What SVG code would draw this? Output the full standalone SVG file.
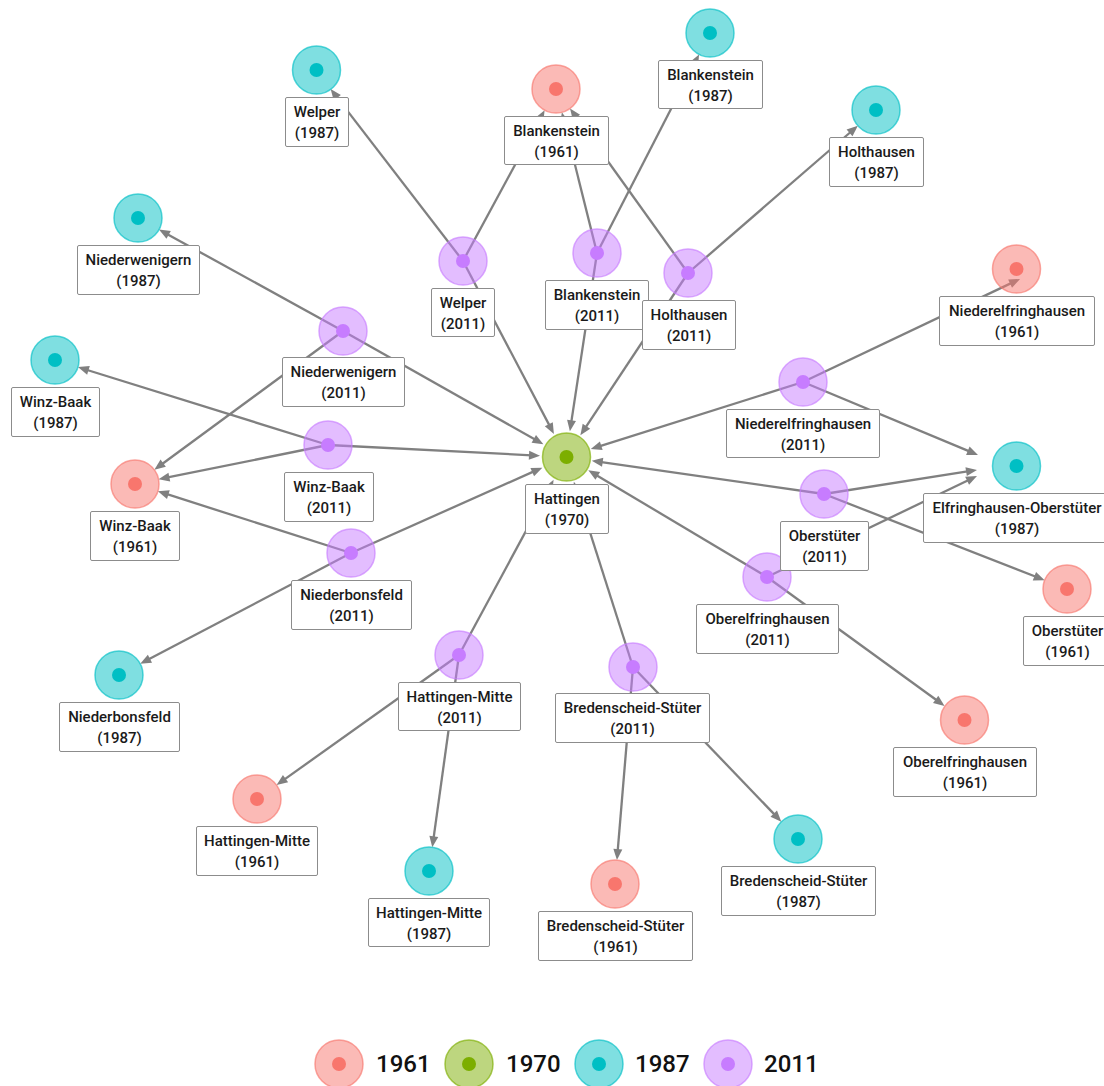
<svg xmlns="http://www.w3.org/2000/svg" width="1104" height="1086" viewBox="0 0 1104 1086">
<defs>
<style>
.e{stroke:#808080;stroke-width:2.3;fill:none;marker-end:url(#arr)}
.o{stroke-width:1.5;fill-opacity:.5;stroke-opacity:.65}
.c61{fill:#F8766D;stroke:#F8766D}
.c70{fill:#7CAE00;stroke:#7CAE00}
.c87{fill:#00BFC4;stroke:#00BFC4}
.c11{fill:#C77CFF;stroke:#C77CFF}
.d61{fill:#F8766D}
.d70{fill:#7CAE00}
.d87{fill:#00BFC4}
.d11{fill:#C77CFF}
.lb{fill:#ffffff;stroke:#8c8c8c;stroke-width:1}
.t{font-family:Roboto,"Liberation Sans",sans-serif;font-size:15px;font-weight:500;fill:#1a1a1a;text-anchor:middle}
.lg{font-family:Roboto,"Liberation Sans",sans-serif;font-size:24px;font-weight:500;fill:#111111}
</style>
<marker id="arr" markerUnits="userSpaceOnUse" markerWidth="20" markerHeight="20" refX="0" refY="0" orient="auto" overflow="visible">
<path d="M-3,-4.5 L8,0 L-3,4.5 Z" fill="#808080"/>
</marker>
</defs>
<rect x="0" y="0" width="1104" height="1086" fill="#ffffff"/>
<g id="edges">
<line class="e" x1="463" y1="261" x2="335.5" y2="95.4"/>
<line class="e" x1="463" y1="261" x2="540.8" y2="117.2"/>
<line class="e" x1="463" y1="261" x2="550.2" y2="426.9"/>
<line class="e" x1="597" y1="253" x2="563.8" y2="120"/>
<line class="e" x1="597" y1="253" x2="695.4" y2="61.5"/>
<line class="e" x1="597" y1="253" x2="571.1" y2="423.4"/>
<line class="e" x1="688" y1="273" x2="574.7" y2="115"/>
<line class="e" x1="688" y1="273" x2="851.8" y2="131"/>
<line class="e" x1="688" y1="273" x2="584.8" y2="428.7"/>
<line class="e" x1="343" y1="331" x2="166" y2="233.4"/>
<line class="e" x1="343" y1="331" x2="160.8" y2="465"/>
<line class="e" x1="343" y1="331" x2="536.4" y2="440.3"/>
<line class="e" x1="328" y1="445" x2="85.6" y2="369.5"/>
<line class="e" x1="328" y1="445" x2="166.4" y2="477.7"/>
<line class="e" x1="328" y1="445" x2="532" y2="455.3"/>
<line class="e" x1="351" y1="553" x2="165.5" y2="493.7"/>
<line class="e" x1="351" y1="553" x2="147.3" y2="660.1"/>
<line class="e" x1="351" y1="553" x2="535" y2="470.9"/>
<line class="e" x1="459" y1="655" x2="283.1" y2="780.4"/>
<line class="e" x1="459" y1="655" x2="433.4" y2="839.3"/>
<line class="e" x1="459" y1="655" x2="549.8" y2="486.9"/>
<line class="e" x1="633" y1="667" x2="617.6" y2="852.1"/>
<line class="e" x1="633" y1="667" x2="775.8" y2="815.9"/>
<line class="e" x1="633" y1="667" x2="576.3" y2="489.4"/>
<line class="e" x1="767" y1="577" x2="938.1" y2="701.2"/>
<line class="e" x1="767" y1="577" x2="969.8" y2="479.5"/>
<line class="e" x1="767" y1="577" x2="595.2" y2="474.4"/>
<line class="e" x1="824" y1="494" x2="1037.2" y2="577.3"/>
<line class="e" x1="824" y1="494" x2="969.1" y2="471.2"/>
<line class="e" x1="824" y1="494" x2="599.7" y2="461.8"/>
<line class="e" x1="803" y1="382" x2="1012.8" y2="282.4"/>
<line class="e" x1="803" y1="382" x2="970.6" y2="451.9"/>
<line class="e" x1="803" y1="382" x2="598.4" y2="446.7"/>
</g>
<g id="nodes">
<g id="blankenstein-1961"><circle class="o c61" cx="556" cy="89" r="24"/><circle class="d61" cx="556" cy="89" r="7"/><rect class="lb" x="504.5" y="116.5" width="104" height="48" rx="1.5"/><text class="t"><tspan x="556.5" y="135.5">Blankenstein</tspan><tspan x="556.5" y="156.5">(1961)</tspan></text></g>
<g id="winz-baak-1961"><circle class="o c61" cx="135" cy="484" r="24"/><circle class="d61" cx="135" cy="484" r="7"/><rect class="lb" x="90.5" y="511.5" width="89" height="49" rx="1.5"/><text class="t"><tspan x="135" y="530.5">Winz-Baak</tspan><tspan x="135" y="551.5">(1961)</tspan></text></g>
<g id="niederelfringhausen-1961"><circle class="o c61" cx="1016.5" cy="269" r="24"/><circle class="d61" cx="1016.5" cy="269" r="7"/><rect class="lb" x="939.5" y="296.5" width="155" height="49" rx="1.5"/><text class="t"><tspan x="1017" y="315.5">Niederelfringhausen</tspan><tspan x="1017" y="336.5">(1961)</tspan></text></g>
<g id="oberstueter-1961"><circle class="o c61" cx="1067" cy="589" r="24"/><circle class="d61" cx="1067" cy="589" r="7"/><rect class="lb" x="1023.5" y="616.5" width="88" height="49" rx="1.5"/><text class="t"><tspan x="1067.5" y="635.5">Oberstüter</tspan><tspan x="1067.5" y="656.5">(1961)</tspan></text></g>
<g id="oberelfringhausen-1961"><circle class="o c61" cx="964.5" cy="720" r="24"/><circle class="d61" cx="964.5" cy="720" r="7"/><rect class="lb" x="893.5" y="747.5" width="143" height="49" rx="1.5"/><text class="t"><tspan x="965" y="766.5">Oberelfringhausen</tspan><tspan x="965" y="787.5">(1961)</tspan></text></g>
<g id="hattingen-mitte-1961"><circle class="o c61" cx="257" cy="799" r="24"/><circle class="d61" cx="257" cy="799" r="7"/><rect class="lb" x="196.5" y="826.5" width="121" height="49" rx="1.5"/><text class="t"><tspan x="257" y="845.5">Hattingen-Mitte</tspan><tspan x="257" y="866.5">(1961)</tspan></text></g>
<g id="bredenscheid-stueter-1961"><circle class="o c61" cx="615" cy="884" r="24"/><circle class="d61" cx="615" cy="884" r="7"/><rect class="lb" x="538.5" y="911.5" width="154" height="49" rx="1.5"/><text class="t"><tspan x="615.5" y="930.5">Bredenscheid-Stüter</tspan><tspan x="615.5" y="951.5">(1961)</tspan></text></g>
<g id="hattingen-1970"><circle class="o c70" cx="566.5" cy="457" r="24"/><circle class="d70" cx="566.5" cy="457" r="7"/><rect class="lb" x="525.5" y="484.5" width="83" height="49" rx="1.5"/><text class="t"><tspan x="567" y="503.5">Hattingen</tspan><tspan x="567" y="524.5">(1970)</tspan></text></g>
<g id="welper-1987"><circle class="o c87" cx="316.5" cy="70" r="24"/><circle class="d87" cx="316.5" cy="70" r="7"/><rect class="lb" x="285.5" y="97.5" width="63" height="49" rx="1.5"/><text class="t"><tspan x="317" y="116.5">Welper</tspan><tspan x="317" y="137.5">(1987)</tspan></text></g>
<g id="blankenstein-1987"><circle class="o c87" cx="710" cy="33" r="24"/><circle class="d87" cx="710" cy="33" r="7"/><rect class="lb" x="658.5" y="60.5" width="104" height="48" rx="1.5"/><text class="t"><tspan x="710.5" y="79.5">Blankenstein</tspan><tspan x="710.5" y="100.5">(1987)</tspan></text></g>
<g id="holthausen-1987"><circle class="o c87" cx="876" cy="110" r="24"/><circle class="d87" cx="876" cy="110" r="7"/><rect class="lb" x="829.5" y="137.5" width="94" height="49" rx="1.5"/><text class="t"><tspan x="876.5" y="156.5">Holthausen</tspan><tspan x="876.5" y="177.5">(1987)</tspan></text></g>
<g id="niederwenigern-1987"><circle class="o c87" cx="138" cy="218" r="24"/><circle class="d87" cx="138" cy="218" r="7"/><rect class="lb" x="77.5" y="245.5" width="122" height="49" rx="1.5"/><text class="t"><tspan x="138.5" y="264.5">Niederwenigern</tspan><tspan x="138.5" y="285.5">(1987)</tspan></text></g>
<g id="winz-baak-1987"><circle class="o c87" cx="55" cy="360" r="24"/><circle class="d87" cx="55" cy="360" r="7"/><rect class="lb" x="11.5" y="387.5" width="88" height="49" rx="1.5"/><text class="t"><tspan x="55.5" y="406.5">Winz-Baak</tspan><tspan x="55.5" y="427.5">(1987)</tspan></text></g>
<g id="niederbonsfeld-1987"><circle class="o c87" cx="119" cy="675" r="24"/><circle class="d87" cx="119" cy="675" r="7"/><rect class="lb" x="59.5" y="702.5" width="120" height="49" rx="1.5"/><text class="t"><tspan x="119.5" y="721.5">Niederbonsfeld</tspan><tspan x="119.5" y="742.5">(1987)</tspan></text></g>
<g id="hattingen-mitte-1987"><circle class="o c87" cx="429" cy="871" r="24"/><circle class="d87" cx="429" cy="871" r="7"/><rect class="lb" x="368.5" y="898.5" width="121" height="48" rx="1.5"/><text class="t"><tspan x="429" y="917.5">Hattingen-Mitte</tspan><tspan x="429" y="938.5">(1987)</tspan></text></g>
<g id="bredenscheid-stueter-1987"><circle class="o c87" cx="798" cy="839" r="24"/><circle class="d87" cx="798" cy="839" r="7"/><rect class="lb" x="721.5" y="866.5" width="154" height="49" rx="1.5"/><text class="t"><tspan x="798.5" y="885.5">Bredenscheid-Stüter</tspan><tspan x="798.5" y="906.5">(1987)</tspan></text></g>
<g id="elfringhausen-oberstueter-1987"><circle class="o c87" cx="1016.5" cy="466" r="24"/><circle class="d87" cx="1016.5" cy="466" r="7"/><rect class="lb" x="923.5" y="493.5" width="187" height="49" rx="1.5"/><text class="t"><tspan x="1017" y="512.5">Elfringhausen-Oberstüter</tspan><tspan x="1017" y="533.5">(1987)</tspan></text></g>
<g id="welper-2011"><circle class="o c11" cx="463" cy="261" r="24"/><circle class="d11" cx="463" cy="261" r="7"/><rect class="lb" x="431.5" y="288.5" width="63" height="48" rx="1.5"/><text class="t"><tspan x="463" y="307.5">Welper</tspan><tspan x="463" y="328.5">(2011)</tspan></text></g>
<g id="blankenstein-2011"><circle class="o c11" cx="597" cy="253" r="24"/><circle class="d11" cx="597" cy="253" r="7"/><rect class="lb" x="545.5" y="280.5" width="103" height="49" rx="1.5"/><text class="t"><tspan x="597" y="299.5">Blankenstein</tspan><tspan x="597" y="320.5">(2011)</tspan></text></g>
<g id="holthausen-2011"><circle class="o c11" cx="688" cy="273" r="24"/><circle class="d11" cx="688" cy="273" r="7"/><rect class="lb" x="642.5" y="300.5" width="93" height="49" rx="1.5"/><text class="t"><tspan x="689" y="319.5">Holthausen</tspan><tspan x="689" y="340.5">(2011)</tspan></text></g>
<g id="niederwenigern-2011"><circle class="o c11" cx="343" cy="331" r="24"/><circle class="d11" cx="343" cy="331" r="7"/><rect class="lb" x="282.5" y="357.5" width="122" height="49" rx="1.5"/><text class="t"><tspan x="343.5" y="376.5">Niederwenigern</tspan><tspan x="343.5" y="397.5">(2011)</tspan></text></g>
<g id="winz-baak-2011"><circle class="o c11" cx="328" cy="445" r="24"/><circle class="d11" cx="328" cy="445" r="7"/><rect class="lb" x="284.5" y="472.5" width="89" height="49" rx="1.5"/><text class="t"><tspan x="329" y="491.5">Winz-Baak</tspan><tspan x="329" y="512.5">(2011)</tspan></text></g>
<g id="niederbonsfeld-2011"><circle class="o c11" cx="351" cy="553" r="24"/><circle class="d11" cx="351" cy="553" r="7"/><rect class="lb" x="291.5" y="580.5" width="120" height="49" rx="1.5"/><text class="t"><tspan x="351.5" y="599.5">Niederbonsfeld</tspan><tspan x="351.5" y="620.5">(2011)</tspan></text></g>
<g id="hattingen-mitte-2011"><circle class="o c11" cx="459" cy="655" r="24"/><circle class="d11" cx="459" cy="655" r="7"/><rect class="lb" x="398.5" y="682.5" width="122" height="48" rx="1.5"/><text class="t"><tspan x="459.5" y="701.5">Hattingen-Mitte</tspan><tspan x="459.5" y="722.5">(2011)</tspan></text></g>
<g id="bredenscheid-stueter-2011"><circle class="o c11" cx="633" cy="667" r="24"/><circle class="d11" cx="633" cy="667" r="7"/><rect class="lb" x="555.5" y="693.5" width="154" height="49" rx="1.5"/><text class="t"><tspan x="632.5" y="712.5">Bredenscheid-Stüter</tspan><tspan x="632.5" y="733.5">(2011)</tspan></text></g>
<g id="oberelfringhausen-2011"><circle class="o c11" cx="767" cy="577" r="24"/><circle class="d11" cx="767" cy="577" r="7"/><rect class="lb" x="696.5" y="604.5" width="142" height="49" rx="1.5"/><text class="t"><tspan x="767.5" y="623.5">Oberelfringhausen</tspan><tspan x="767.5" y="644.5">(2011)</tspan></text></g>
<g id="oberstueter-2011"><circle class="o c11" cx="824" cy="494" r="24"/><circle class="d11" cx="824" cy="494" r="7"/><rect class="lb" x="780.5" y="521.5" width="88" height="49" rx="1.5"/><text class="t"><tspan x="824.5" y="540.5">Oberstüter</tspan><tspan x="824.5" y="561.5">(2011)</tspan></text></g>
<g id="niederelfringhausen-2011"><circle class="o c11" cx="803" cy="382" r="24"/><circle class="d11" cx="803" cy="382" r="7"/><rect class="lb" x="726.5" y="409.5" width="153" height="48" rx="1.5"/><text class="t"><tspan x="803" y="428.5">Niederelfringhausen</tspan><tspan x="803" y="449.5">(2011)</tspan></text></g>
</g>
<g id="legend">
<circle class="o c61" cx="339" cy="1064" r="24"/><circle class="d61" cx="339" cy="1064" r="7"/><text class="lg" x="376" y="1072">1961</text>
<circle class="o c70" cx="469" cy="1064" r="24"/><circle class="d70" cx="469" cy="1064" r="7"/><text class="lg" x="506" y="1072">1970</text>
<circle class="o c87" cx="599" cy="1064" r="24"/><circle class="d87" cx="599" cy="1064" r="7"/><text class="lg" x="635" y="1072">1987</text>
<circle class="o c11" cx="728" cy="1064" r="24"/><circle class="d11" cx="728" cy="1064" r="7"/><text class="lg" x="764" y="1072">2011</text>
</g>
</svg>
